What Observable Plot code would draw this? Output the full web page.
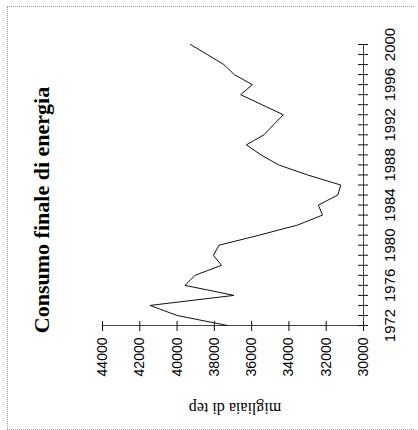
<!DOCTYPE html>
<html><head><meta charset="utf-8">
<script src="https://cdn.jsdelivr.net/npm/d3@7"></script>
<script src="https://cdn.jsdelivr.net/npm/@observablehq/plot@0.6"></script>
<style>
body{margin:0;background:#fff;width:418px;height:430px;overflow:hidden;position:relative}
#frame{position:absolute;left:7px;top:6px;width:406px;height:422px;border-top:1px dotted #999;border-left:1px dotted #999;border-bottom:1px dotted #999}
#rot{position:absolute;left:0;top:0;width:430px;height:418px;transform-origin:0 0;transform:translate(0,430px) rotate(-90deg)}
#title{position:absolute;left:5px;width:430px;top:29px;text-align:center;font:bold 22px "Liberation Serif",serif;color:#000;line-height:26px}
#ylab{position:absolute;left:-77px;top:225px;width:200px;height:20px;line-height:20px;text-align:center;font:16px "Liberation Serif",serif;color:#000;transform:rotate(-90deg);transform-origin:50% 50%}
#chart{position:absolute;left:0;top:0}
</style></head><body>
<div id="frame"></div>
<div id="rot"><div id="chart"></div><div id="title">Consumo finale di energia</div><div id="ylab"></div></div>
<script>
const years = [1972,1973,1974,1975,1976,1977,1978,1979,1980,1981,1982,1983,1984,1985,1986,1987,1988,1989,1990,1991,1992,1993,1994,1995,1996,1997,1998,1999,2000];
const consumo = [37300,40000,41450,36950,39580,39030,37620,38050,37750,35600,33550,32200,32420,31380,31220,33000,34550,35500,36280,35340,34830,34300,35450,36590,35960,36930,37490,38380,39280];
const yearTicks = [1972,1976,1980,1984,1988,1992,1996,2000];
const valueTicks = [30000,32000,34000,36000,38000,40000,42000,44000];
const yLabel = "migliaia di tep";

document.getElementById("ylab").textContent = yLabel;
const data = years.map((y, i) => ({year: y, value: consumo[i]}));
const chart = Plot.plot({
  width: 430, height: 418,
  marginLeft: 104, marginRight: 45, marginTop: 102, marginBottom: 55,
  x: {domain: [1972, 2000], axis: null},
  y: {domain: [30000, 44000], axis: null},
  style: {background: "transparent", color: "#111", overflow: "visible"},
  marks: [
    Plot.ruleY([30000], {stroke: "#444"}),
    Plot.ruleX([1972], {stroke: "#444"}),
    Plot.axisX({ticks: years, tickSize: 10, dy: -5, tickFormat: () => "", label: null}),
    Plot.axisX({ticks: yearTicks, tickSize: 0, tickPadding: 21, tickFormat: d => String(d), label: null, fontSize: 15, fontFamily: "Liberation Sans", fill: "#000"}),
    Plot.axisY({ticks: valueTicks, tickSize: 10, dx: 5, tickFormat: () => "", label: null}),
    Plot.axisY({ticks: valueTicks, tickSize: 0, tickPadding: 12, tickFormat: d => String(d), label: null, fontSize: 14, fontFamily: "Liberation Sans", fill: "#000"}),
    Plot.line(data, {x: "year", y: "value", stroke: "#111", strokeWidth: 1})
  ]
});
document.getElementById("chart").appendChild(chart);
</script>
</body></html>
